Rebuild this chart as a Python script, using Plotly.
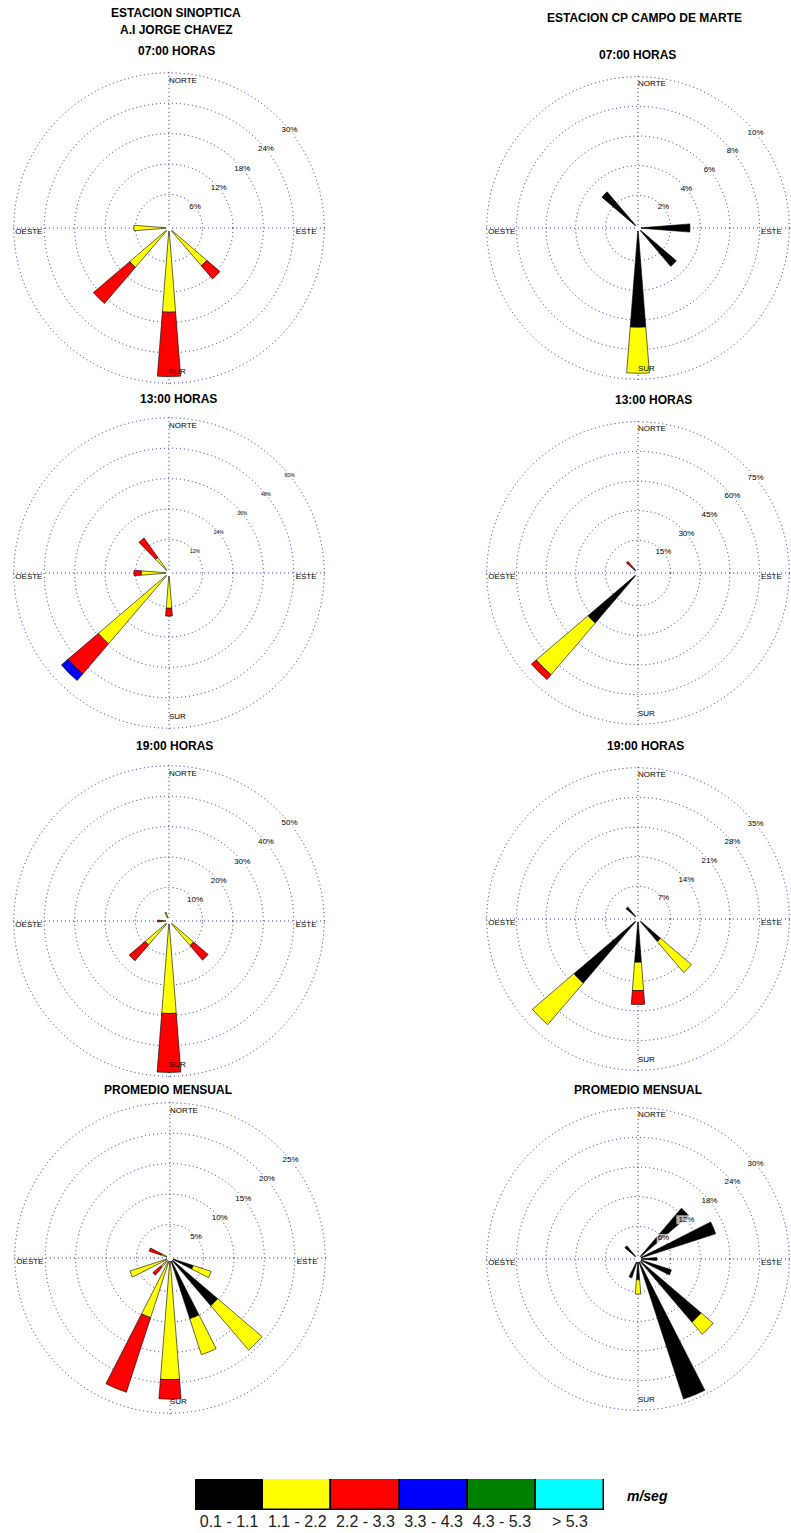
import plotly.graph_objects as go

W, H = 791, 1533

# Wind speed classes (m/s) and their colours
SPEED_CLASSES = ["0.1 - 1.1", "1.1 - 2.2", "2.2 - 3.3", "3.3 - 4.3", "4.3 - 5.3", "> 5.3"]
CLASS_COLORS = ["#000000", "#ffff00", "#ff0000", "#0000ff", "#008000", "#00ffff"]

CARDINALS = ["NORTE", "ESTE", "SUR", "OESTE"]

# Frequencies (%) per direction (degrees from north) and speed class
# A.I. Jorge Chavez - 07:00
jc07_theta = [180, 225, 135, 270]
jc07_c1 = [0.0, 0.0, 0.0, 0.0]
jc07_c2 = [16.0, 9.6, 9.2, 6.3]
jc07_c3 = [12.7, 9.4, 3.4, 0.0]
jc07_c4 = [0.0, 0.0, 0.0, 0.0]
jc07_ticks = [6, 12, 18, 24, 30]

# Campo de Marte - 07:00
cp07_theta = [180, 315, 90, 135]
cp07_c1 = [6.5, 3.0, 3.3, 3.2]
cp07_c2 = [3.1, 0.0, 0.0, 0.0]
cp07_c3 = [0.0, 0.0, 0.0, 0.0]
cp07_c4 = [0.0, 0.0, 0.0, 0.0]
cp07_ticks = [2, 4, 6, 8, 10]

# A.I. Jorge Chavez - 13:00
jc13_theta = [225, 320, 270, 180]
jc13_c1 = [0.0, 0.0, 0.0, 0.0]
jc13_c2 = [35.5, 6.3, 9.8, 12.7]
jc13_c3 = [15.7, 9.4, 2.8, 3.1]
jc13_c4 = [3.4, 0.0, 0.0, 0.0]
jc13_ticks = [12, 24, 36, 48, 60]

# Campo de Marte - 13:00
cp13_theta = [225, 315]
cp13_c1 = [31.8, 1.6]
cp13_c2 = [34.4, 0.0]
cp13_c3 = [3.2, 4.6]
cp13_c4 = [0.0, 0.0]
cp13_ticks = [15, 30, 45, 60, 75]

# A.I. Jorge Chavez - 19:00
jc19_theta = [180, 225, 135, 270, 337.5]
jc19_c1 = [0.0, 0.0, 0.0, 0.0, 0.0]
jc19_c2 = [29.4, 9.3, 9.6, 1.2, 2.0]
jc19_c3 = [19.4, 6.9, 6.3, 1.5, 0.0]
jc19_c4 = [0.0, 0.0, 0.0, 0.0, 0.0]
jc19_ticks = [10, 20, 30, 40, 50]

# Campo de Marte - 19:00
cp19_theta = [225, 180, 135, 315]
cp19_c1 = [19.2, 9.5, 6.3, 3.0]
cp19_c2 = [12.9, 6.7, 9.6, 0.0]
cp19_c3 = [0.0, 3.3, 0.0, 0.0]
cp19_c4 = [0.0, 0.0, 0.0, 0.0]
cp19_ticks = [7, 14, 21, 28, 35]

# A.I. Jorge Chavez - promedio mensual
jcpm_theta = [180, 202.5, 157.5, 135, 112.5, 247.5, 225, 292.5]
jcpm_c1 = [0.0, 0.0, 10.0, 9.8, 3.5, 0.0, 0.0, 0.0]
jcpm_c2 = [19.5, 9.8, 6.2, 9.6, 3.1, 6.4, 1.5, 1.0]
jcpm_c3 = [3.2, 12.9, 0.0, 0.0, 0.0, 0.0, 1.7, 2.1]
jcpm_c4 = [0.0, 0.0, 0.0, 0.0, 0.0, 0.0, 0.0, 0.0]
jcpm_ticks = [5, 10, 15, 20, 25]

# Campo de Marte - promedio mensual
cppm_theta = [157.5, 135, 67.5, 45, 90, 112.5, 180, 202.5, 315]
cppm_c1 = [29.2, 16.2, 15.9, 12.9, 3.2, 6.5, 3.6, 3.4, 2.9]
cppm_c2 = [0.0, 3.2, 0.0, 0.0, 0.0, 0.0, 2.9, 0.0, 0.0]
cppm_c3 = [0.0, 0.0, 0.0, 0.0, 0.0, 0.0, 0.0, 0.0, 0.0]
cppm_c4 = [0.0, 0.0, 0.0, 0.0, 0.0, 0.0, 0.0, 0.0, 0.0]
cppm_ticks = [6, 12, 18, 24, 30]

R = 157
panels = [
    dict(theta=jc07_theta, cls=[jc07_c1, jc07_c2, jc07_c3, jc07_c4], ticks=jc07_ticks, cx=169, cy=228, tsize=8),
    dict(theta=cp07_theta, cls=[cp07_c1, cp07_c2, cp07_c3, cp07_c4], ticks=cp07_ticks, cx=642, cy=228, tsize=8),
    dict(theta=jc13_theta, cls=[jc13_c1, jc13_c2, jc13_c3, jc13_c4], ticks=jc13_ticks, cx=169, cy=573, tsize=5),
    dict(theta=cp13_theta, cls=[cp13_c1, cp13_c2, cp13_c3, cp13_c4], ticks=cp13_ticks, cx=642, cy=573, tsize=8),
    dict(theta=jc19_theta, cls=[jc19_c1, jc19_c2, jc19_c3, jc19_c4], ticks=jc19_ticks, cx=169, cy=921, tsize=8),
    dict(theta=cp19_theta, cls=[cp19_c1, cp19_c2, cp19_c3, cp19_c4], ticks=cp19_ticks, cx=642, cy=919, tsize=8),
    dict(theta=jcpm_theta, cls=[jcpm_c1, jcpm_c2, jcpm_c3, jcpm_c4], ticks=jcpm_ticks, cx=170, cy=1258, tsize=8),
    dict(theta=cppm_theta, cls=[cppm_c1, cppm_c2, cppm_c3, cppm_c4], ticks=cppm_ticks, cx=642, cy=1259, tsize=8),
]

GRID = "#2a2a9a"
FONT = "Liberation Sans, Arial, sans-serif"

fig = go.Figure()
layout = dict(
    width=W, height=H,
    margin=dict(l=0, r=0, t=0, b=0, pad=0, autoexpand=False),
    paper_bgcolor="white", plot_bgcolor="white",
    showlegend=False, bargap=0,
)

for i, p in enumerate(panels):
    pid = "polar" if i == 0 else f"polar{i + 1}"
    rmax = p["ticks"][-1]
    # stacked speed classes
    for k, vals in enumerate(p["cls"]):
        if not any(v > 0 for v in vals):
            continue
        fig.add_trace(go.Barpolar(
            r=vals, theta=p["theta"], width=9,
            marker=dict(color=CLASS_COLORS[k], line=dict(color="black", width=0.6)),
            subplot=pid, hoverinfo="skip",
        ))
    # ring labels on a small white backing
    labels = [f"{t}%" for t in p["ticks"]]
    fig.add_trace(go.Scatterpolar(
        r=p["ticks"], theta=[51] * len(p["ticks"]),
        text=labels, mode="markers+text",
        marker=dict(symbol="line-ew", size=[p["tsize"] * 0.6 * len(s) for s in labels],
                    line=dict(color="white", width=p["tsize"] + 1)),
        textfont=dict(family=FONT, size=p["tsize"], color="black"),
        textposition="middle center", subplot=pid, hoverinfo="skip", cliponaxis=False,
    ))
    # cardinal point names
    fig.add_trace(go.Scatterpolar(
        r=[0.975 * rmax, 0.95 * rmax, 0.955 * rmax, 0.99 * rmax], theta=[0, 90, 180, 270],
        text=CARDINALS, mode="text",
        textfont=dict(family=FONT, size=8, color="black"),
        textposition=["bottom right", "bottom left", "top right", "bottom right"],
        subplot=pid, hoverinfo="skip", cliponaxis=False,
    ))

    cx, cy = p["cx"], p["cy"]
    x0, x1 = (cx - R) / W, min(cx + R, W) / W
    y0, y1 = 1 - (cy + R) / H, 1 - (cy - R) / H
    layout[pid] = dict(
        domain=dict(x=[x0, x1], y=[y0, y1]),
        bgcolor="white", hole=0.02, barmode="stack",
        # range a hair past the last ring so its circle is still drawn
        radialaxis=dict(range=[0, rmax * 1.012], tickvals=p["ticks"], showticklabels=False,
                        ticks="", showline=False, gridcolor=GRID, gridwidth=1, griddash="1px,3px"),
        angularaxis=dict(rotation=90, direction="clockwise", tickvals=[0, 90, 180, 270],
                         showticklabels=False, ticks="", showline=False,
                         gridcolor=GRID, gridwidth=1, griddash="1px,3px"),
    )

# speed-class colour key
fig.add_trace(go.Bar(
    x=SPEED_CLASSES, y=[1] * len(SPEED_CLASSES),
    marker=dict(color=CLASS_COLORS, line=dict(color="black", width=1.5)),
    width=1, xaxis="x", yaxis="y", hoverinfo="skip",
))
layout["xaxis"] = dict(domain=[195 / W, 604 / W], showgrid=False, zeroline=False, showline=False,
                       ticks="", tickangle=0, automargin=False,
                       tickfont=dict(family="Liberation Sans Narrow, Arial Narrow, Liberation Sans, sans-serif",
                                     size=16, color="#222"), fixedrange=True)
layout["yaxis"] = dict(domain=[1 - 1510 / H, 1 - 1479 / H], range=[0, 1], visible=False,
                       automargin=False, fixedrange=True)

annotations = []
def title(text, x, y, size=12):
    annotations.append(dict(text=f"<b>{text}</b>", x=x / W, y=1 - y / H, xref="paper", yref="paper",
                            showarrow=False, xanchor="center", yanchor="middle",
                            font=dict(family=FONT, size=size, color="black")))

title("ESTACION SINOPTICA", 176, 13)
title("A.I JORGE CHAVEZ", 176, 30)
title("07:00 HORAS", 176, 51)
title("ESTACION CP CAMPO DE MARTE", 644, 18)
title("07:00 HORAS", 637, 55)
title("13:00 HORAS", 178, 399)
title("13:00 HORAS", 653, 400)
title("19:00 HORAS", 174, 746)
title("19:00 HORAS", 645, 746)
title("PROMEDIO MENSUAL", 168, 1090)
title("PROMEDIO MENSUAL", 638, 1090)
annotations.append(dict(text="<b><i>m/seg</i></b>", x=647 / W, y=1 - 1496 / H, xref="paper", yref="paper",
                        showarrow=False, xanchor="center", yanchor="middle",
                        font=dict(family=FONT, size=14, color="black")))
layout["annotations"] = annotations

fig.update_layout(**layout)
fig.write_html("out.html")
